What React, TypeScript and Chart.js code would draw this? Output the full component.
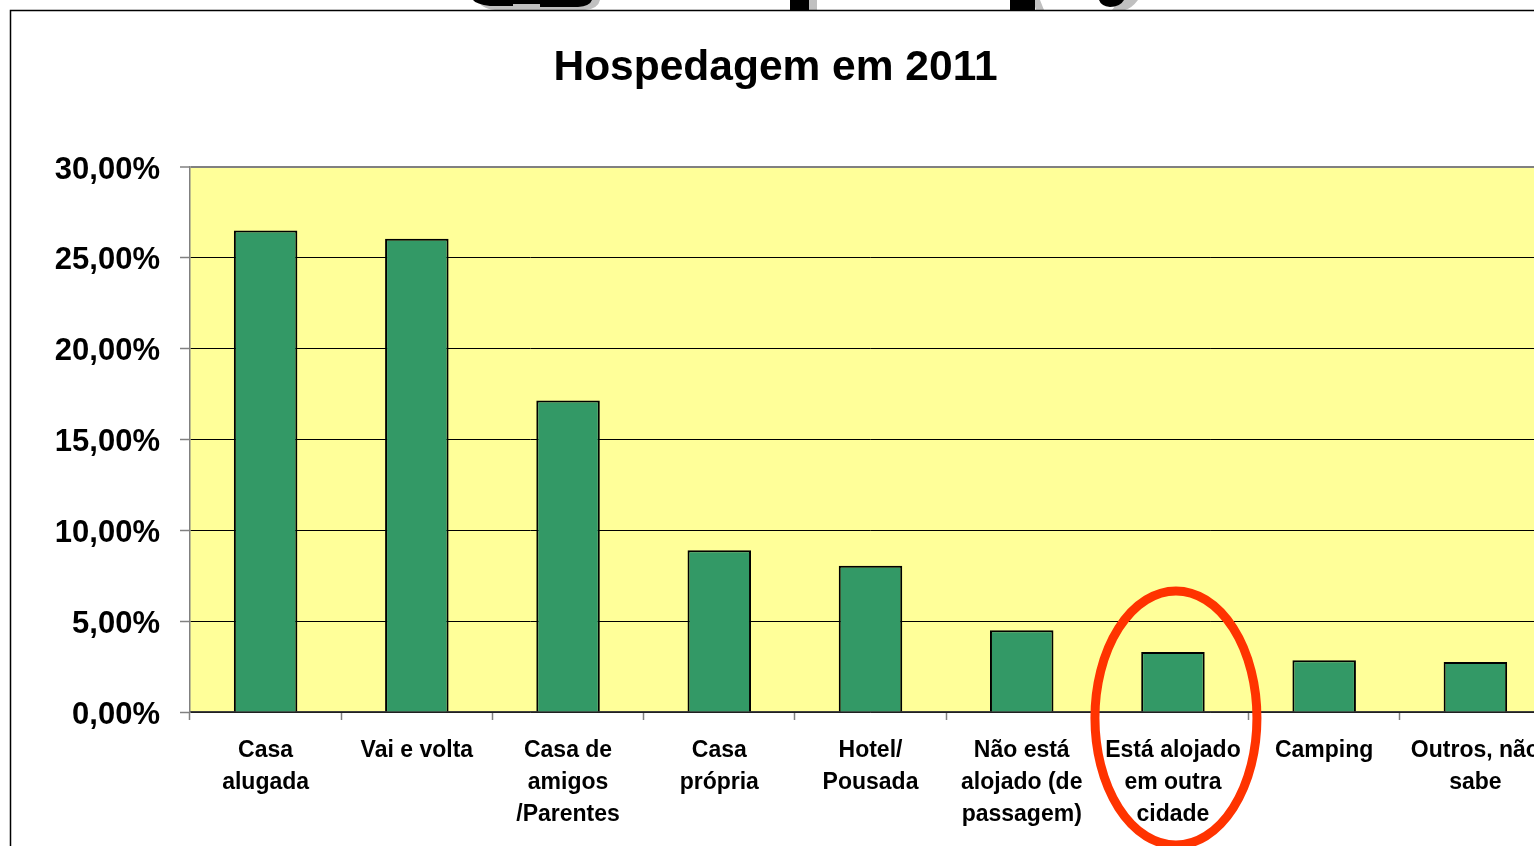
import React, { useEffect, useRef } from "react";
import { Chart, registerables } from "chart.js";

Chart.register(...registerables);

const categories: string[][] = [
  ["Casa", "alugada"],
  ["Vai e volta"],
  ["Casa de", "amigos", "/Parentes"],
  ["Casa", "própria"],
  ["Hotel/", "Pousada"],
  ["Não está", "alojado (de", "passagem)"],
  ["Está alojado", "em outra", "cidade"],
  ["Camping"],
  ["Outros, não", "sabe"],
];

const values: number[] = [26.5, 26.05, 17.15, 8.9, 8.05, 4.5, 3.3, 2.85, 2.75];

const yTickLabels: string[] = ["0,00%", "5,00%", "10,00%", "15,00%", "20,00%", "25,00%", "30,00%"];

const titleText = "Hospedagem em 2011";
const highlightIndex = 6;

const CANVAS_W = 1560;
const CANVAS_H = 846;

const FONT = "'Liberation Sans', Arial, sans-serif";

export default function App() {
  const ref = useRef<HTMLCanvasElement | null>(null);

  useEffect(() => {
    document.body.style.margin = "0";
    document.body.style.overflow = "hidden";
    const canvas = ref.current;
    if (!canvas) return;

    const bgPlugin = {
      id: "plotBg",
      beforeDraw(chart: any) {
        const { ctx, chartArea } = chart;
        ctx.save();
        ctx.fillStyle = "#FFFF99";
        ctx.fillRect(chartArea.left, chartArea.top, chartArea.right - chartArea.left, chartArea.bottom - chartArea.top);
        ctx.restore();
      },
      afterDraw(chart: any) {
        const { ctx } = chart;
        ctx.save();
        // cropped fragments of a large heading above the frame
        ctx.fillStyle = "#c0c0c0";
        ctx.beginPath();
        ctx.moveTo(478, 0);
        ctx.lineTo(600, 0);
        ctx.quadraticCurveTo(598, 9, 585, 10);
        ctx.lineTo(495, 10);
        ctx.quadraticCurveTo(480, 8, 478, 0);
        ctx.fill();
        ctx.fillRect(808, 0, 9, 10);
        ctx.beginPath();
        ctx.moveTo(1033, 0);
        ctx.lineTo(1040, 0);
        ctx.lineTo(1044, 10);
        ctx.lineTo(1036, 10);
        ctx.fill();
        ctx.beginPath();
        ctx.moveTo(1120, 0);
        ctx.lineTo(1138, 0);
        ctx.quadraticCurveTo(1132, 8, 1125, 10);
        ctx.lineTo(1112, 10);
        ctx.fill();
        ctx.fillStyle = "#000";
        ctx.beginPath();
        ctx.moveTo(473, 0);
        ctx.lineTo(592, 0);
        ctx.quadraticCurveTo(590, 6, 578, 7);
        ctx.lineTo(540, 7);
        ctx.lineTo(540, 4);
        ctx.lineTo(513, 4);
        ctx.lineTo(513, 6);
        ctx.lineTo(490, 6);
        ctx.quadraticCurveTo(476, 4, 473, 0);
        ctx.fill();
        ctx.fillRect(790, 0, 19, 10);
        ctx.fillRect(1010, 0, 25, 10);
        ctx.beginPath();
        ctx.moveTo(1099, 0);
        ctx.lineTo(1124, 0);
        ctx.quadraticCurveTo(1120, 7, 1110, 7);
        ctx.quadraticCurveTo(1101, 6, 1099, 0);
        ctx.fill();
        ctx.fillStyle = "#fff";
        ctx.fillRect(0, 10, CANVAS_W, 1);
        // outer frame
        ctx.strokeStyle = "#000";
        ctx.lineWidth = 1.5;
        ctx.beginPath();
        ctx.moveTo(10.5, CANVAS_H + 5);
        ctx.lineTo(10.5, 10.5);
        ctx.lineTo(CANVAS_W + 5, 10.5);
        ctx.stroke();
        // highlight ellipse
        const xs = chart.scales.x;
        const cx = xs.getPixelForValue(highlightIndex) + 3;
        const cy = chart.chartArea.bottom + 6;
        ctx.strokeStyle = "#FF3300";
        ctx.lineWidth = 9;
        ctx.beginPath();
        ctx.ellipse(cx, cy, 81, 127, 0, 0, Math.PI * 2);
        ctx.stroke();
        ctx.restore();
      },
    };

    const chart = new Chart(canvas, {
      type: "bar",
      data: {
        labels: categories,
        datasets: [
          {
            data: values,
            backgroundColor: "#339966",
            borderColor: "#000000",
            borderWidth: 2,
            barPercentage: 0.42,
            categoryPercentage: 1,
          },
        ],
      },
      plugins: [bgPlugin],
      options: {
        animation: false,
        responsive: false,
        maintainAspectRatio: false,
        layout: { padding: { left: 0, right: 9, top: 0, bottom: 0 } },
        plugins: {
          legend: { display: false },
          tooltip: { enabled: false },
          title: {
            display: true,
            text: titleText,
            color: "#000",
            font: { family: FONT, size: 42.5, weight: "bold" },
            padding: { top: 43, bottom: 73 },
          },
        },
        scales: {
          x: {
            offset: true,
            grid: {
              offset: true,
              drawOnChartArea: false,
              tickLength: 8,
              tickColor: "#808080",
              tickWidth: 1.5,
            },
            border: { display: true, color: "#404040", width: 1.5 },
            ticks: {
              color: "#000",
              maxRotation: 0,
              autoSkip: false,
              padding: 15,
              font: { family: FONT, size: 23, weight: "bold", lineHeight: 1.39 },
            },
            afterFit(scale: any) {
              scale.height = CANVAS_H - 712;
            },
          },
          y: {
            min: 0,
            max: 30,
            ticks: {
              stepSize: 5,
              color: "#000",
              padding: 20,
              labelOffset: 3,
              font: { family: FONT, size: 31, weight: "bold" },
              callback: (_v: any, i: number) => yTickLabels[i],
            },
            grid: {
              color: (c: any) => (c.tick && c.tick.value === 30 ? "#808080" : "#000000"),
              lineWidth: (c: any) => (c.tick && c.tick.value === 30 ? 2 : 1),
              tickColor: "#808080",
              tickLength: 10,
              tickWidth: 1.5,
            },
            border: { display: true, color: "#808080", width: 1.5 },
            afterFit(scale: any) {
              scale.width = 190;
            },
          },
        },
      },
    });

    return () => chart.destroy();
  }, []);

  return (
    <div style={{ position: "fixed", left: 0, top: 0, width: 1534, height: 846, overflow: "hidden", background: "#fff" }}>
      <canvas ref={ref} width={CANVAS_W} height={CANVAS_H} style={{ display: "block", width: CANVAS_W, height: CANVAS_H }} />
    </div>
  );
}
